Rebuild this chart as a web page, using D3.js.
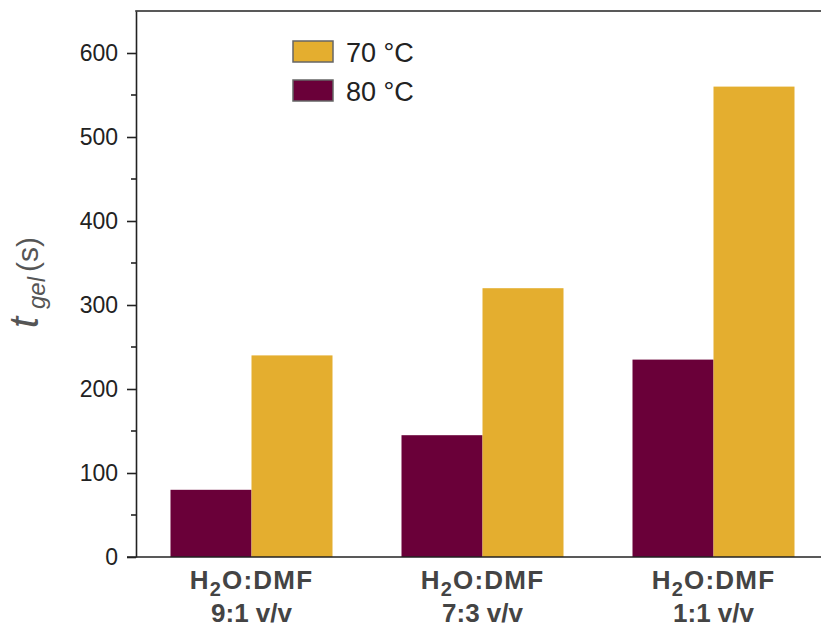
<!DOCTYPE html>
<html>
<head>
<meta charset="utf-8">
<script src="https://cdn.jsdelivr.net/npm/d3@7"></script>
<style>
  html, body { margin: 0; padding: 0; background: #fff; }
  svg { display: block; font-family: "Liberation Sans", Arial, sans-serif; }
</style>
</head>
<body>
<svg id="chart" width="821" height="630"></svg>
<script>
// Gelation time per solvent ratio, at two temperatures
const categories = ["9:1", "7:3", "1:1"];
const series = ["80 °C", "70 °C"];
const values80 = [80, 145, 235];
const values70 = [240, 320, 560];
const yTicks = [0, 100, 200, 300, 400, 500, 600];
const legendOrder = ["70 °C", "80 °C"];

const colors = { "80 °C": "#6a0039", "70 °C": "#e4ae2f" };
const seriesValues = { "80 °C": values80, "70 °C": values70 };

const svg = d3.select("#chart");
const plotLeft = 136, plotTop = 11, plotBottom = 557, plotRight = 829;

const y = d3.scaleLinear().domain([0, 650]).range([plotBottom, plotTop]);
const x = d3.scaleBand().domain(categories).range([plotLeft, plotRight]).padding(0);
const barW = 81;
const xSub = d3.scaleBand().domain(series).range([-barW, barW]).padding(0);

// bars
const groups = svg.append("g").selectAll("g")
  .data(categories)
  .join("g")
  .attr("transform", d => `translate(${x(d) + x.bandwidth() / 2},0)`);

groups.selectAll("rect")
  .data((c, i) => series.map(s => ({ s, v: seriesValues[s][i] })))
  .join("rect")
  .attr("x", d => xSub(d.s))
  .attr("width", xSub.bandwidth())
  .attr("y", d => y(d.v))
  .attr("height", d => y(0) - y(d.v))
  .attr("fill", d => colors[d.s]);

// y axis with minor ticks
const yAxis = d3.axisLeft(y).tickValues(yTicks).tickSize(9).tickPadding(9).tickSizeOuter(0);
const gy = svg.append("g").attr("transform", `translate(${plotLeft},0)`).call(yAxis);
gy.select(".domain").attr("stroke", "#222").attr("stroke-width", 1.6);
gy.selectAll(".tick line").attr("stroke", "#222").attr("stroke-width", 1.6);
gy.selectAll(".tick text").attr("fill", "#222").style("font-size", "23px").style("font-family", "Liberation Sans, Arial, sans-serif");

const minor = d3.range(50, 650, 100);
svg.append("g").selectAll("line")
  .data(minor)
  .join("line")
  .attr("x1", plotLeft - 5).attr("x2", plotLeft)
  .attr("y1", d => y(d)).attr("y2", d => y(d))
  .attr("stroke", "#222").attr("stroke-width", 1.6);

// top border and baseline
svg.append("line").attr("x1", plotLeft - 0.8).attr("x2", 821)
  .attr("y1", y(650)).attr("y2", y(650))
  .attr("stroke", "#222").attr("stroke-width", 1.6);
svg.append("line").attr("x1", plotLeft - 9).attr("x2", 821)
  .attr("y1", y(0)).attr("y2", y(0))
  .attr("stroke", "#222").attr("stroke-width", 1.6);

// category labels
const xl = svg.append("g").selectAll("text")
  .data(categories)
  .join("text")
  .attr("text-anchor", "middle")
  .attr("fill", "#444")
  .style("font-weight", "bold")
  .style("font-size", "26px")
  .attr("transform", d => `translate(${x(d) + x.bandwidth() / 2},0)`);

const line1 = xl.append("tspan").attr("x", 0).attr("y", 589).style("letter-spacing", "1.2px");
line1.append("tspan").text("H");
line1.append("tspan").attr("dy", 7).style("font-size", "20px").text("2");
line1.append("tspan").attr("dy", -7).text("O:DMF");
xl.append("tspan").attr("x", 0).attr("y", 622).text(d => `${d} v/v`);

// y axis title (rotated; x runs up the page, y is the baseline column)
const yt = svg.append("text")
  .attr("transform", "rotate(-90)")
  .attr("fill", "#555")
  .style("font-size", "30px");
yt.append("tspan").attr("x", -328).attr("y", 38)
  .style("font-style", "italic").style("font-size", "40px").text("t");
yt.append("tspan").attr("x", -309).attr("y", 45)
  .style("font-style", "italic").style("font-size", "24px").text("gel");
yt.append("tspan").attr("x", -272).attr("y", 38).text("(s)");

// legend
const lg = svg.append("g").selectAll("g")
  .data(legendOrder)
  .join("g")
  .attr("transform", (d, i) => `translate(293,${41 + i * 39})`);
lg.append("rect")
  .attr("width", 40).attr("height", 21)
  .attr("fill", d => colors[d])
  .attr("stroke", "#666").attr("stroke-width", 1.5);
lg.append("text")
  .attr("x", 53).attr("y", 20.5)
  .attr("fill", "#222")
  .style("font-size", "27px")
  .text(d => d);
</script>
</body>
</html>
